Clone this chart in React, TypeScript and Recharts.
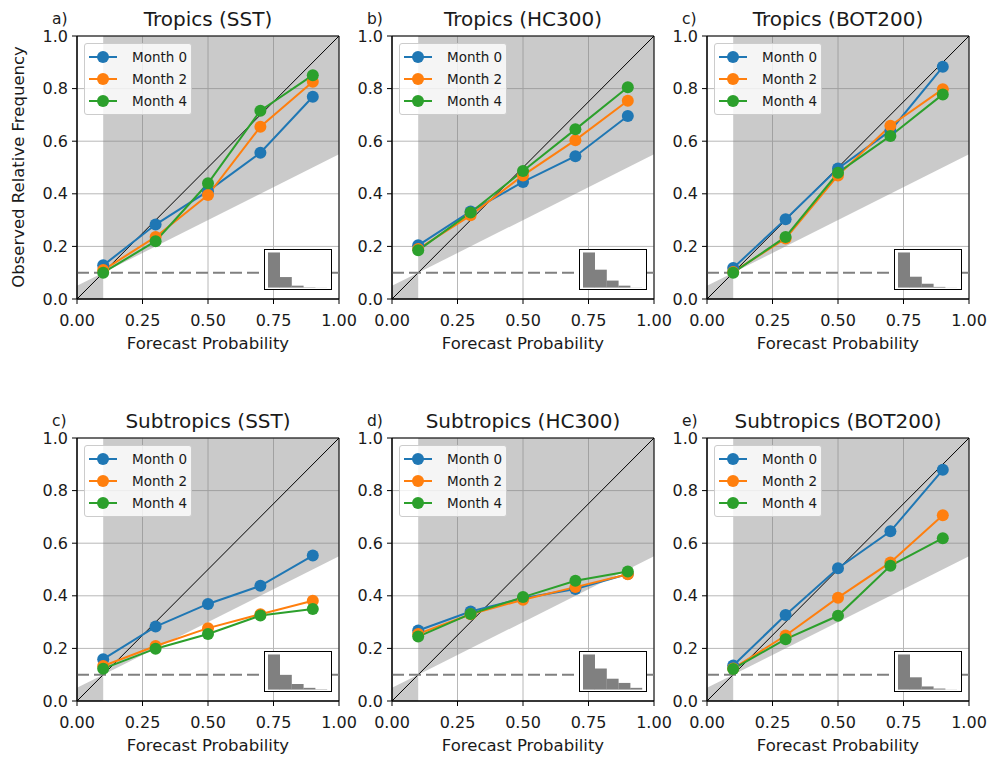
import React from 'react';
import {
  ComposedChart,
  Line,
  Area,
  XAxis,
  YAxis,
  CartesianGrid,
  ReferenceLine,
  ReferenceArea,
  Legend,
  BarChart,
  Bar,
} from 'recharts';

// ---------- data ----------
const forecastProb = [0.1, 0.3, 0.5, 0.7, 0.9];
const seriesNames = ['Month 0', 'Month 2', 'Month 4'];
const seriesColors = ['#1f77b4', '#ff7f0e', '#2ca02c'];

const tropicsSstMonth0 = [0.128, 0.283, 0.41, 0.556, 0.769];
const tropicsSstMonth2 = [0.11, 0.236, 0.395, 0.655, 0.826];
const tropicsSstMonth4 = [0.1, 0.22, 0.44, 0.716, 0.851];

const tropicsHcMonth0 = [0.204, 0.333, 0.445, 0.543, 0.696];
const tropicsHcMonth2 = [0.19, 0.318, 0.47, 0.604, 0.754];
const tropicsHcMonth4 = [0.185, 0.329, 0.487, 0.645, 0.805];

const tropicsBotMonth0 = [0.118, 0.303, 0.496, 0.64, 0.883];
const tropicsBotMonth2 = [0.103, 0.23, 0.47, 0.659, 0.798];
const tropicsBotMonth4 = [0.1, 0.236, 0.48, 0.62, 0.778];

const subSstMonth0 = [0.159, 0.283, 0.369, 0.438, 0.553];
const subSstMonth2 = [0.133, 0.209, 0.277, 0.33, 0.381];
const subSstMonth4 = [0.123, 0.199, 0.255, 0.325, 0.35];

const subHcMonth0 = [0.268, 0.34, 0.391, 0.426, 0.483];
const subHcMonth2 = [0.255, 0.33, 0.385, 0.433, 0.482];
const subHcMonth4 = [0.245, 0.331, 0.395, 0.457, 0.492];

const subBotMonth0 = [0.135, 0.327, 0.505, 0.645, 0.879];
const subBotMonth2 = [0.124, 0.249, 0.393, 0.527, 0.706];
const subBotMonth4 = [0.122, 0.235, 0.324, 0.514, 0.619];

// sharpness histograms (relative counts per forecast-probability bin)
const histBins = ['0.0-0.2', '0.2-0.4', '0.4-0.6', '0.6-0.8', '0.8-1.0'];
const histTropicsSst = [1.0, 0.3, 0.055, 0.01, 0.003];
const histTropicsHc = [1.0, 0.51, 0.2, 0.055, 0.004];
const histTropicsBot = [1.0, 0.31, 0.11, 0.02, 0.003];
const histSubSst = [1.0, 0.42, 0.16, 0.05, 0.01];
const histSubHc = [1.0, 0.6, 0.31, 0.19, 0.05];
const histSubBot = [1.0, 0.35, 0.09, 0.03, 0.004];

// reference geometry
const climatology = 0.1;
const skillX = [0, 0.1, 0.1, 1];
const skillLow = [0, 0, 0.1, 0.55];
const skillHigh = [0.05, 0.1, 1, 1];

const xTicks = [0, 0.25, 0.5, 0.75, 1];
const yTicks = [0, 0.2, 0.4, 0.6, 0.8, 1];

const panelTitles = [
  'Tropics (SST)',
  'Tropics (HC300)',
  'Tropics (BOT200)',
  'Subtropics (SST)',
  'Subtropics (HC300)',
  'Subtropics (BOT200)',
];
const panelLetters = ['a)', 'b)', 'c)', 'c)', 'd)', 'e)'];

const panelSeries = [
  [tropicsSstMonth0, tropicsSstMonth2, tropicsSstMonth4],
  [tropicsHcMonth0, tropicsHcMonth2, tropicsHcMonth4],
  [tropicsBotMonth0, tropicsBotMonth2, tropicsBotMonth4],
  [subSstMonth0, subSstMonth2, subSstMonth4],
  [subHcMonth0, subHcMonth2, subHcMonth4],
  [subBotMonth0, subBotMonth2, subBotMonth4],
];
const panelHists = [histTropicsSst, histTropicsHc, histTropicsBot, histSubSst, histSubHc, histSubBot];

// ---------- layout ----------
const FONT = "'DejaVu Sans', 'Liberation Sans', sans-serif";
const COL_X = [77, 392, 707];
const ROW_Y = [36, 438];
const PLOT_W = 262;
const PLOT_H = 263;
const Y_AXIS_W = 50;
const X_AXIS_H = 50;
const M_TOP = 14;
const M_RIGHT = 22;
const M_BOTTOM = 5;

const TEXT = '#1a1a1a';

function LegendBox() {
  return (
    <div
      style={{
        width: 108,
        height: 72,
        boxSizing: 'border-box',
        background: 'rgba(255,255,255,0.8)',
        border: '1px solid #cccccc',
        borderRadius: 3,
        paddingTop: 2,
        fontFamily: FONT,
        fontSize: 13.5,
        color: TEXT,
      }}
    >
      {seriesNames.map((name, i) => (
        <div key={name} style={{ display: 'flex', alignItems: 'center', height: 22 }}>
          <svg width={38} height={22} style={{ marginLeft: 3 }}>
            <line x1={1} y1={11} x2={29} y2={11} stroke={seriesColors[i]} strokeWidth={2} />
            <circle cx={15} cy={11} r={6} fill={seriesColors[i]} />
          </svg>
          <span style={{ marginLeft: 6 }}>{name}</span>
        </div>
      ))}
    </div>
  );
}

function Inset({ values, left, top }: { values: number[]; left: number; top: number }) {
  const data = histBins.map((b, i) => ({ bin: b, v: values[i] }));
  return (
    <div
      style={{
        position: 'absolute',
        left,
        top,
        width: 68,
        height: 41,
        boxSizing: 'border-box',
        border: '1px solid #000',
        background: '#fff',
      }}
    >
      <BarChart width={66} height={39} data={data} margin={{ top: 0, right: 0, bottom: 0, left: 0 }} barCategoryGap={0}>
        <XAxis dataKey="bin" hide padding={{ left: 3, right: 4 }} />
        <YAxis hide domain={[-0.04, 1.07]} type="number" allowDataOverflow />
        <Bar dataKey="v" fill="#808080" isAnimationActive={false} />
      </BarChart>
    </div>
  );
}

function Panel({ idx }: { idx: number }) {
  const col = idx % 3;
  const row = Math.floor(idx / 3);
  const plotLeft = COL_X[col];
  const plotTop = ROW_Y[row];
  const series = panelSeries[idx];
  const lineData = forecastProb.map((p, i) => ({ p, m0: series[0][i], m2: series[1][i], m4: series[2][i] }));
  const shadeData = skillX.map((p, i) => ({ p, band: [skillLow[i], skillHigh[i]] }));
  const chartW = Y_AXIS_W + PLOT_W + M_RIGHT;
  const chartH = M_TOP + PLOT_H + X_AXIS_H + M_BOTTOM;
  const keys = ['m0', 'm2', 'm4'];
  return (
    <>
      <div style={{ position: 'absolute', left: plotLeft - Y_AXIS_W, top: plotTop - M_TOP }}>
        <ComposedChart
          width={chartW}
          height={chartH}
          data={lineData}
          margin={{ top: M_TOP, right: M_RIGHT, bottom: M_BOTTOM, left: 0 }}
        >
          <CartesianGrid stroke="#b8b8b8" strokeWidth={1} />
          <XAxis
            dataKey="p"
            type="number"
            domain={[0, 1]}
            ticks={xTicks}
            allowDataOverflow
            height={X_AXIS_H}
            tickFormatter={(v: number) => v.toFixed(2)}
            tick={{ fontSize: 16, fill: TEXT, fontFamily: FONT }}
            tickSize={5}
            tickMargin={11}
            stroke="#000"
            interval={0}
            label={{
              value: 'Forecast Probability',
              position: 'insideBottom',
              offset: 0,
              style: { fontSize: 16.5, fill: TEXT, fontFamily: FONT },
            }}
          />
          <YAxis
            type="number"
            domain={[0, 1]}
            ticks={yTicks}
            allowDataOverflow
            width={Y_AXIS_W}
            interval={0}
            tickFormatter={(v: number) => v.toFixed(1)}
            tick={{ fontSize: 16, fill: TEXT, fontFamily: FONT }}
            tickSize={5}
            tickMargin={4}
            stroke="#000"
          />
          <Area
            data={shadeData}
            dataKey="band"
            type="linear"
            stroke="none"
            fill="#808080"
            fillOpacity={0.42}
            isAnimationActive={false}
            activeDot={false}
          />
          <ReferenceLine
            segment={[
              { x: 0, y: 0 },
              { x: 1, y: 1 },
            ]}
            stroke="#000"
            strokeWidth={1}
          />
          <ReferenceLine y={climatology} stroke="#808080" strokeWidth={2} strokeDasharray="12 5" />
          {keys.map((k, i) => (
            <Line
              key={k}
              dataKey={k}
              name={seriesNames[i]}
              type="linear"
              stroke={seriesColors[i]}
              strokeWidth={2}
              dot={{ r: 6, fill: seriesColors[i], stroke: 'none' }}
              activeDot={false}
              isAnimationActive={false}
            />
          ))}
          <ReferenceArea x1={0} x2={1} y1={0} y2={1} fill="none" fillOpacity={0} stroke="#000" strokeWidth={1} />
          <Legend
            layout="horizontal"
            align="center"
            verticalAlign="middle"
            content={() => <LegendBox />}
            wrapperStyle={{ left: Y_AXIS_W + 7, top: M_TOP + 7, width: 108, height: 72 }}
          />
        </ComposedChart>
      </div>
      <Inset values={panelHists[idx]} left={plotLeft + PLOT_W - 7 - 68} top={plotTop + PLOT_H - 9 - 41} />
      <div
        style={{
          position: 'absolute',
          left: plotLeft,
          width: PLOT_W,
          top: plotTop - 31,
          height: 28,
          lineHeight: '28px',
          textAlign: 'center',
          fontFamily: FONT,
          fontSize: 20,
          color: TEXT,
          whiteSpace: 'nowrap',
        }}
      >
        {panelTitles[idx]}
      </div>
      <div
        style={{
          position: 'absolute',
          left: plotLeft - 25,
          top: plotTop - 29,
          height: 24,
          lineHeight: '24px',
          fontFamily: FONT,
          fontSize: 15.5,
          color: TEXT,
        }}
      >
        {panelLetters[idx]}
      </div>
    </>
  );
}

export default function App() {
  return (
    <div
      style={{
        position: 'absolute',
        left: 0,
        top: 0,
        width: 991,
        height: 758,
        background: '#fff',
        overflow: 'hidden',
      }}
    >
      {panelTitles.map((_, i) => (
        <Panel key={i} idx={i} />
      ))}
      <div
        style={{
          position: 'absolute',
          left: 18.5 - 150,
          top: 167 - 12,
          width: 300,
          height: 24,
          lineHeight: '24px',
          textAlign: 'center',
          transform: 'rotate(-90deg)',
          fontFamily: FONT,
          fontSize: 16.5,
          color: TEXT,
          whiteSpace: 'nowrap',
        }}
      >
        Observed Relative Frequency
      </div>
    </div>
  );
}
